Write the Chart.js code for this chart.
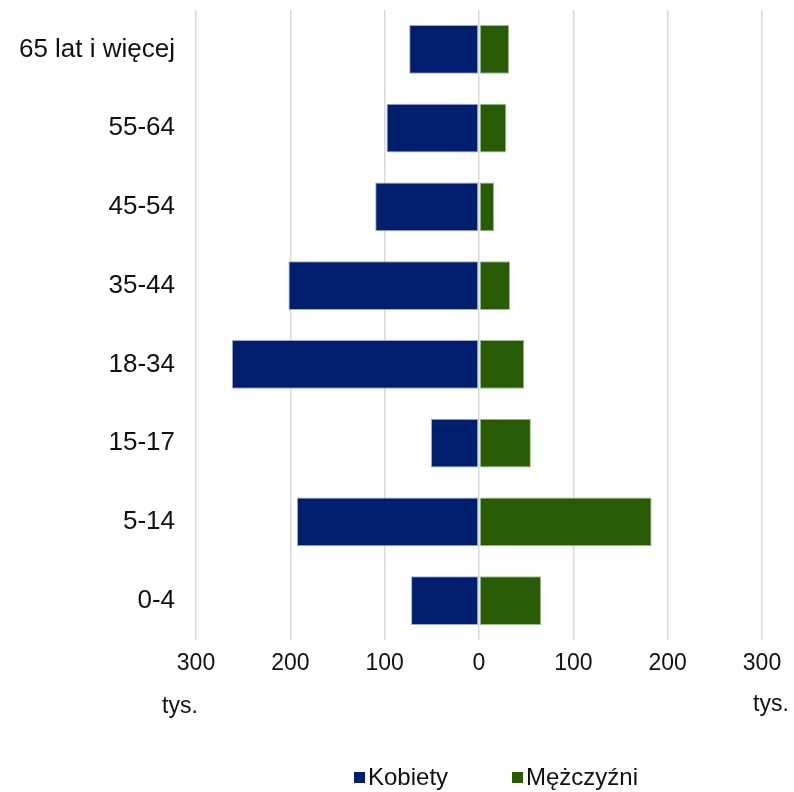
<!DOCTYPE html>
<html>
<head>
<meta charset="utf-8">
<script src="https://cdn.jsdelivr.net/npm/chart.js@4.4.1/dist/chart.umd.min.js"></script>
<style>
  html, body { margin: 0; padding: 0; background: #fff; }
  #wrap { position: relative; width: 794px; height: 792px; }
  #legend { position: absolute; top: 763px; left: 0; width: 794px; height: 28px;
            font-family: "Liberation Sans", Arial, sans-serif; font-size: 24px; color: #111; }
  .item { position: absolute; top: 0; display: flex; align-items: center; height: 28px; }
  .box { width: 11px; height: 11px; margin-right: 3px; }
</style>
</head>
<body>
<div id="wrap">
  <canvas id="chart" width="794" height="792"></canvas>
  <div id="legend">
    <div class="item" style="left:354px"><span class="box" style="background:#001E6E"></span>Kobiety</div>
    <div class="item" style="left:512px"><span class="box" style="background:#285C04"></span>Mężczyźni</div>
  </div>
</div>
<script>
// age groups, top to bottom
const ageGroups = ['65 lat i więcej', '55-64', '45-54', '35-44', '18-34', '15-17', '5-14', '0-4'];
// thousands; women drawn to the left (negative)
const women = [74, 98, 110, 202, 262, 51, 193, 72];
const men = [32, 29, 16, 33, 48, 55, 183, 66];
const xTicks = [-300, -200, -100, 0, 100, 200, 300];

const font = 'Liberation Sans, Arial, sans-serif';

// "tys." under both ends of the value axis
const unitLabels = {
  id: 'unitLabels',
  afterDraw(chart) {
    const { ctx, chartArea } = chart;
    ctx.save();
    ctx.font = '23px ' + font;
    ctx.fillStyle = '#111';
    ctx.textAlign = 'center';
    ctx.textBaseline = 'middle';
    ctx.fillText('tys.', chartArea.left - 16, 707);
    ctx.fillText('tys.', chartArea.right + 9, 705);
    ctx.restore();
  }
};

new Chart(document.getElementById('chart'), {
  type: 'bar',
  data: {
    labels: ageGroups,
    datasets: [
      { label: 'Kobiety', data: women.map(v => -v), backgroundColor: '#001E6E',
        borderColor: 'rgba(150,165,210,0.9)', borderWidth: 1, borderSkipped: false },
      { label: 'Mężczyźni', data: men, backgroundColor: '#285C04',
        borderColor: 'rgba(150,185,130,0.9)', borderWidth: 1, borderSkipped: false },
    ],
  },
  options: {
    indexAxis: 'y',
    responsive: false,
    animation: false,
    layout: { padding: { top: 10, right: 32, left: 0, bottom: 0 } },
    datasets: { bar: { categoryPercentage: 1, barPercentage: 0.62 } },
    plugins: { legend: { display: false }, tooltip: { enabled: false } },
    scales: {
      x: {
        stacked: true, min: -300, max: 300,
        afterBuildTicks: s => { s.ticks = xTicks.map(v => ({ value: v })); },
        afterFit: s => { s.height = 152; },
        border: { display: false },
        grid: { color: '#d9d9d9', lineWidth: 1.5, drawTicks: false },
        ticks: { color: '#111', font: { family: font, size: 23 }, padding: 10,
                 callback: v => Math.abs(v) },
      },
      y: {
        stacked: true,
        afterFit: s => { s.width = 196; s.paddingTop = 0; s.paddingBottom = 0; },
        border: { display: false },
        grid: { display: false, drawTicks: false },
        ticks: { color: '#111', font: { family: font, size: 26 }, padding: 21 },
      },
    },
  },
  plugins: [unitLabels],
});
</script>
</body>
</html>
